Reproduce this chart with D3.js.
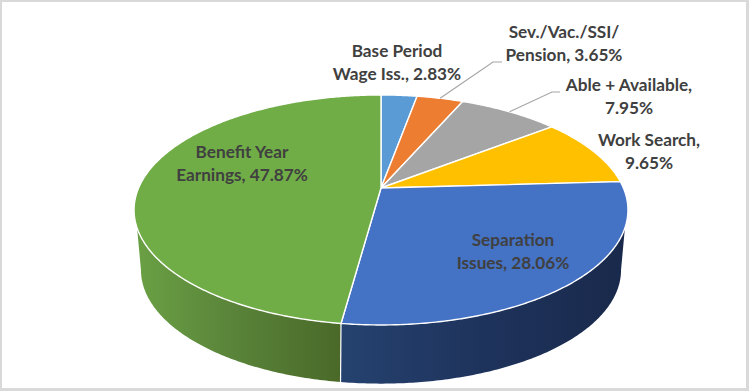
<!DOCTYPE html>
<html>
<head>
<meta charset="utf-8">
<script src="https://cdn.jsdelivr.net/npm/d3@7"></script>
<style>
	html, body { margin: 0; padding: 0; background: #fff; }
	svg { display: block; }
	text { font-family: Lato, "Open Sans", sans-serif; font-weight: 700; font-size: 17.2px; fill: #404040; }
</style>
</head>
<body>
<svg id="chart" width="749" height="391"></svg>
<script>
const categories = ['Base Period Wage Iss.', 'Sev./Vac./SSI/Pension', 'Able + Available', 'Work Search', 'Separation Issues', 'Benefit Year Earnings'];
const shares = [2.83, 3.65, 7.95, 9.65, 28.06, 47.87];
const sliceColors = ['#5b9bd5', '#ed7d31', '#a5a5a5', '#ffc000', '#4472c4', '#70ad47'];
const labelLines = [
	['Base Period', 'Wage Iss., 2.83%'],
	['Sev./Vac./SSI/', 'Pension, 3.65%'],
	['Able + Available,', '7.95%'],
	['Work Search,', '9.65%'],
	['Separation', 'Issues, 28.06%'],
	['Benefit Year', 'Earnings, 47.87%']
];

const WIDTH = 749;
const HEIGHT = 391;
const LINE_H = 23;
// label centre x and first baseline y
const labelPos = [[397, 57], [564, 38], [629, 91], [649, 146], [513, 246], [242, 158]];
// elbow and end of the leader lines, by slice index
const leaders = { 1: [[493, 62], [502, 62]], 2: [[552, 92], [560, 92]] };

// the tilted disc is a perspective view of a circle, so the centre sits above the ellipse middle
const TOP = { cx: 381, cy: 188, sx: 242.4, sy: 110.8, k: -0.191 };
const BOTTOM = { cx: 381, cy: 243.9, sx: 233.6, sy: 107.6, k: -0.23 };

function project(disc, angle) {
	const u = Math.sin(angle);
	const v = -Math.cos(angle);
	const w = 1 + disc.k * v;
	return [disc.cx + (disc.sx * u) / w, disc.cy + (disc.sy * v) / w];
}

function arcPoints(disc, a0, a1) {
	const n = Math.max(2, Math.ceil(Math.abs(a1 - a0) / 0.01));
	return d3.range(n + 1).map(i => project(disc, a0 + ((a1 - a0) * i) / n));
}

const line = d3.line();
const pie = d3.pie().sort(null).value(d => d);
const arcs = pie(shares);

const svg = d3.select('#chart');
const defs = svg.append('defs');

function addGradient(id, stops) {
	const g = defs.append('linearGradient').attr('id', id);
	stops.forEach(s => g.append('stop').attr('offset', s[0]).attr('stop-color', s[1]));
}
addGradient('wall-green', [[0, '#6aa044'], [0.45, '#5a853a'], [1, '#4a6929']]);
addGradient('wall-blue', [[0, '#25426f'], [0.5, '#1e335c'], [1, '#19294b']]);

svg.append('rect').attr('width', WIDTH).attr('height', HEIGHT).attr('fill', '#d9d9d9');
svg.append('rect').attr('x', 2).attr('y', 2).attr('width', WIDTH - 5).attr('height', HEIGHT - 5).attr('fill', '#fff');

// side wall: where it leaves the top rim and where it meets the tangent of the bottom rim
const RAD = Math.PI / 180;
const TOP_LIMITS = [109.7 * RAD, 250.3 * RAD];
const BOTTOM_LIMITS = [103.3 * RAD, 256.7 * RAD];
const walls = [
	{ a0: arcs[4].startAngle, a1: arcs[4].endAngle, fill: 'url(#wall-blue)' },
	{ a0: arcs[5].startAngle, a1: arcs[5].endAngle, fill: 'url(#wall-green)' }
];
walls.forEach(w => {
	const topPts = arcPoints(TOP, Math.max(w.a0, TOP_LIMITS[0]), Math.min(w.a1, TOP_LIMITS[1]));
	const bottomPts = arcPoints(BOTTOM, Math.min(w.a1, BOTTOM_LIMITS[1]), Math.max(w.a0, BOTTOM_LIMITS[0]));
	svg.append('path')
		.attr('d', line(topPts.concat(bottomPts)) + 'Z')
		.attr('fill', w.fill);
});

// seam between the two wall segments
const seam = arcs[4].endAngle;
svg.append('path')
	.attr('d', line([project(TOP, seam), project(BOTTOM, seam)]))
	.attr('stroke', '#fff')
	.attr('stroke-width', 1.2)
	.attr('fill', 'none');

// top face
svg.append('g')
	.selectAll('path')
	.data(arcs)
	.join('path')
	.attr('d', d => line([[TOP.cx, TOP.cy]].concat(arcPoints(TOP, d.startAngle, d.endAngle))) + 'Z')
	.attr('fill', (d, i) => sliceColors[i])
	.attr('stroke', '#fff')
	.attr('stroke-width', 1.4)
	.attr('stroke-linejoin', 'round')
	.append('title')
	.text((d, i) => categories[i]);

// leader lines start on the rim at the slice's mid angle
Object.keys(leaders).forEach(key => {
	const d = arcs[key];
	const start = project(TOP, (d.startAngle + d.endAngle) / 2);
	svg.append('path')
		.attr('d', line([start].concat(leaders[key])))
		.attr('fill', 'none')
		.attr('stroke', '#a6a6a6')
		.attr('stroke-width', 1.2);
});

const labels = svg.append('g')
	.selectAll('text')
	.data(labelLines)
	.join('text')
	.attr('text-anchor', 'middle');

labels.selectAll('tspan')
	.data((d, i) => d.map((t, j) => ({ t, x: labelPos[i][0], y: labelPos[i][1] + j * LINE_H })))
	.join('tspan')
	.attr('x', d => d.x)
	.attr('y', d => d.y)
	.text(d => d.t);
</script>
</body>
</html>
